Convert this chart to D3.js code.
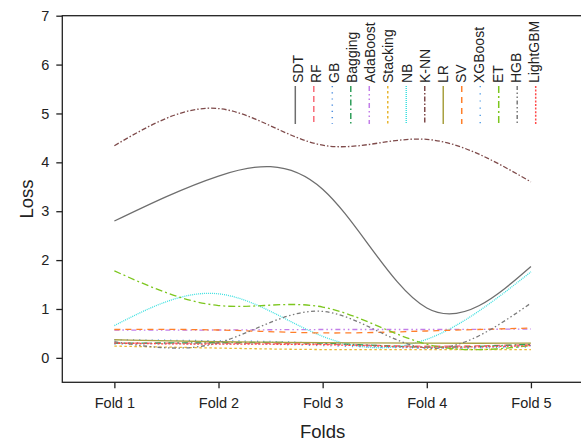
<!DOCTYPE html>
<html>
<head>
<meta charset="utf-8">
<script src="https://cdn.jsdelivr.net/npm/d3@7"></script>
<style>
  body { margin: 0; background: #fff; }
  text { font-family: "Liberation Sans", Arial, sans-serif; fill: #222; }
</style>
</head>
<body>
<div id="chart"></div>
<script>
// Loss per fold for each model
const folds = ["Fold 1", "Fold 2", "Fold 3", "Fold 4", "Fold 5"];
const yTicks = [0, 1, 2, 3, 4, 5, 6, 7];

const SDT      = [2.80, 3.72, 3.45, 1.02, 1.87];
const RF       = [0.30, 0.30, 0.28, 0.24, 0.27];
const GB       = [0.37, 0.35, 0.30, 0.20, 0.25];
const Bagging  = [0.30, 0.31, 0.30, 0.22, 0.28];
const AdaBoost = [0.57, 0.57, 0.58, 0.58, 0.59];
const Stacking = [0.24, 0.20, 0.17, 0.17, 0.17];
const NB       = [0.66, 1.31, 0.44, 0.38, 1.76];
const KNN      = [4.34, 5.10, 4.35, 4.47, 3.60];
const LR       = [0.37, 0.33, 0.31, 0.30, 0.30];
const SV       = [0.58, 0.57, 0.51, 0.55, 0.61];
const XGBoost  = [0.28, 0.29, 0.25, 0.20, 0.22];
const ET       = [1.78, 1.07, 1.04, 0.28, 0.25];
const HGB      = [0.33, 0.31, 0.95, 0.20, 1.12];
const LightGBM = [0.30, 0.28, 0.27, 0.22, 0.25];

const seriesNames = ["SDT", "RF", "GB", "Bagging", "AdaBoost", "Stacking", "NB",
  "K-NN", "LR", "SV", "XGBoost", "ET", "HGB", "LightGBM"];
const seriesValues = [SDT, RF, GB, Bagging, AdaBoost, Stacking, NB,
  KNN, LR, SV, XGBoost, ET, HGB, LightGBM];

// line styles
const colors = ["#6e6e6e", "#f86c78", "#4f8fe0", "#2e9e5a", "#c27ee8", "#e8b632", "#3ee0e0",
  "#7e4a4a", "#a8a040", "#ff7f2a", "#5ca2e6", "#7cc61e", "#7a7a7a", "#ff4a4a"];
const dashes = ["", "6,4", "1.2,5", "6,3,1.5,3", "5,3,1.5,3,1.5,3", "2.5,2.5", "1,1",
  "5,2,1.5,2", "", "6,5", "1.2,6", "7,3,2,3", "4,2.5,1.5,2.5,1.5,2.5", "2,1.6"];

const width = 581, height = 444;
const frame = {left: 62.3, right: 583, top: 15.7, bottom: 382.3};

const svg = d3.select("#chart").append("svg")
  .attr("width", width)
  .attr("height", height);

const x = d3.scalePoint()
  .domain(folds)
  .range([frame.left, frame.right])
  .padding(0.5);

const y = d3.scaleLinear()
  .domain([-0.5, 7])
  .range([frame.bottom, frame.top]);

// frame
svg.append("rect")
  .attr("x", frame.left)
  .attr("y", frame.top)
  .attr("width", frame.right - frame.left)
  .attr("height", frame.bottom - frame.top)
  .attr("fill", "none")
  .attr("stroke", "#222")
  .attr("stroke-width", 1.3);

// axes
const xAxis = svg.append("g")
  .attr("transform", "translate(0," + frame.bottom + ")")
  .call(d3.axisBottom(x).tickSize(6).tickPadding(9));
xAxis.select(".domain").remove();
xAxis.selectAll("line").attr("stroke", "#222").attr("stroke-width", 1.3);
xAxis.selectAll("text").style("font-size", "14.5px").attr("fill", "#222")
  .style("font-family", "'Liberation Sans', Arial, sans-serif");

const yAxis = svg.append("g")
  .attr("transform", "translate(" + frame.left + ",0)")
  .call(d3.axisLeft(y).tickValues(yTicks).tickSize(6).tickPadding(7));
yAxis.select(".domain").remove();
yAxis.selectAll("line").attr("stroke", "#222").attr("stroke-width", 1.3);
yAxis.selectAll("text").style("font-size", "14.5px").attr("fill", "#222")
  .style("font-family", "'Liberation Sans', Arial, sans-serif");

// axis titles
svg.append("text")
  .attr("x", (x(folds[0]) + x(folds[4])) / 2)
  .attr("y", 438)
  .attr("text-anchor", "middle")
  .style("font-size", "18.5px")
  .text("Folds");

svg.append("text")
  .attr("transform", "translate(33," + (frame.top + frame.bottom) / 2 + ") rotate(-90)")
  .attr("text-anchor", "middle")
  .style("font-size", "18.5px")
  .text("Loss");

// curves
const line = d3.line()
  .x((d, i) => x(folds[i]))
  .y(d => y(d))
  .curve(d3.curveNatural);

svg.append("g").selectAll("path")
  .data(seriesValues)
  .enter().append("path")
  .attr("d", d => line(d))
  .attr("fill", "none")
  .attr("stroke", (d, i) => colors[i])
  .attr("stroke-width", 1.3)
  .attr("stroke-dasharray", (d, i) => dashes[i]);

// legend: vertical labels with vertical line samples
const legend = svg.append("g");
const lx = d3.scalePoint().domain(seriesNames).range([295.3, 535.7]);

legend.selectAll("line")
  .data(seriesNames)
  .enter().append("line")
  .attr("x1", d => lx(d))
  .attr("x2", d => lx(d))
  .attr("y1", 86)
  .attr("y2", 124)
  .attr("stroke", (d, i) => colors[i])
  .attr("stroke-width", 1.5)
  .attr("stroke-dasharray", (d, i) => dashes[i]);

legend.selectAll("text")
  .data(seriesNames)
  .enter().append("text")
  .attr("transform", (d, i) => "translate(" + (lx(d) + 7.2 - i * 0.3) + ",83) rotate(-90)")
  .style("font-size", "14px")
  .text(d => d);
</script>
</body>
</html>
